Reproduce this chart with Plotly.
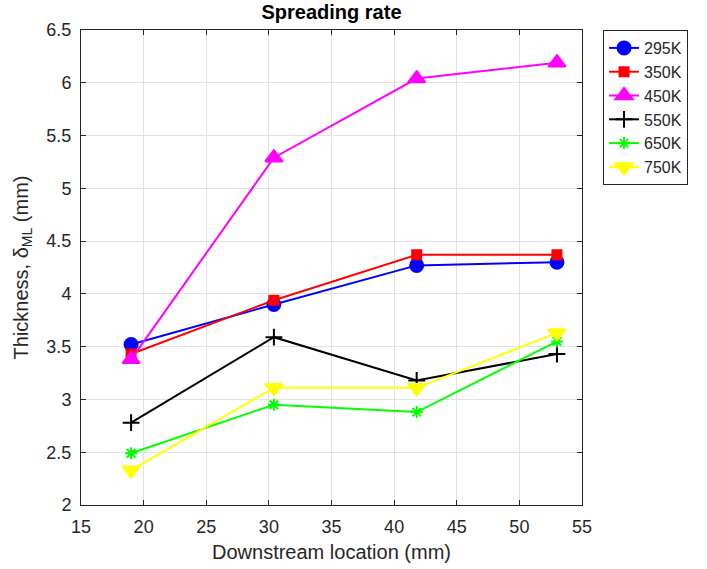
import plotly.graph_objects as go

x_loc = [19.0, 30.4, 41.8, 53.0]
series_names = ["295K", "350K", "450K", "550K", "650K", "750K"]
y_295 = [3.52, 3.90, 4.27, 4.30]
y_350 = [3.43, 3.94, 4.37, 4.37]
y_450 = [3.38, 5.29, 6.04, 6.19]
y_550 = [2.78, 3.59, 3.18, 3.43]
y_650 = [2.49, 2.95, 2.88, 3.55]
y_750 = [2.33, 3.11, 3.11, 3.63]
x_ticks = [15, 20, 25, 30, 35, 40, 45, 50, 55]
y_ticks = [2, 2.5, 3, 3.5, 4, 4.5, 5, 5.5, 6, 6.5]

styles = [
    ("#0000ff", "circle", 13),
    ("#ff0000", "square", 9),
    ("#ff00ff", "triangle-up", 15),
    ("#000000", "cross-thin-open", 12),
    ("#00ff00", "asterisk-open", 10),
    ("#ffff00", "triangle-down", 15),
]
ys = [y_295, y_350, y_450, y_550, y_650, y_750]

FONT = "Liberation Sans, Arial"
fig = go.Figure()
for name, y, (c, sym, sz) in zip(series_names, ys, styles):
    fig.add_trace(go.Scatter(
        x=x_loc, y=y, name=name, mode="lines+markers", legendgroup=name,
        line=dict(color=c, width=2),
        marker=dict(symbol=sym, size=sz, color=c, line=dict(color=c, width=2)),
    ))

axis_common = dict(
    showgrid=True, gridcolor="#e1e1e1", gridwidth=1,
    showline=True, linecolor="#262626", linewidth=1, mirror="ticks",
    ticks="inside", ticklen=5, tickcolor="#262626",
    tickfont=dict(family=FONT, size=18, color="#262626"),
    zeroline=False, automargin=False,
)
fig.update_xaxes(range=[15, 55], tickvals=x_ticks, ticklabelstandoff=5, **axis_common,
                 title=dict(text="Downstream location (mm)",
                            font=dict(family=FONT, size=20, color="#262626"),
                            standoff=9))
fig.update_yaxes(range=[2, 6.5], tickvals=y_ticks, ticklabelstandoff=5, **axis_common,
                 title=dict(text="Thickness, δ<sub>ML</sub> (mm)",
                            font=dict(family=FONT, size=20, color="#262626"),
                            standoff=12))

fig.update_layout(
    width=707, height=569,
    margin=dict(l=81, r=125, t=30, b=64),
    paper_bgcolor="white", plot_bgcolor="white",
    title=dict(text="<b>Spreading rate</b>", x=(81 + 582) / 2 / 707, xanchor="center",
               y=1 - 12 / 569, yanchor="middle",
               font=dict(family=FONT, size=20, color="#000000")),
    legend=dict(x=1.042, y=1.0, xanchor="left", yanchor="top",
                bordercolor="#262626", borderwidth=1, bgcolor="white",
                font=dict(family=FONT, size=16, color="#262626"),
                tracegroupgap=0, itemsizing="trace"),
    showlegend=True,
)

fig.write_html("out.html")
